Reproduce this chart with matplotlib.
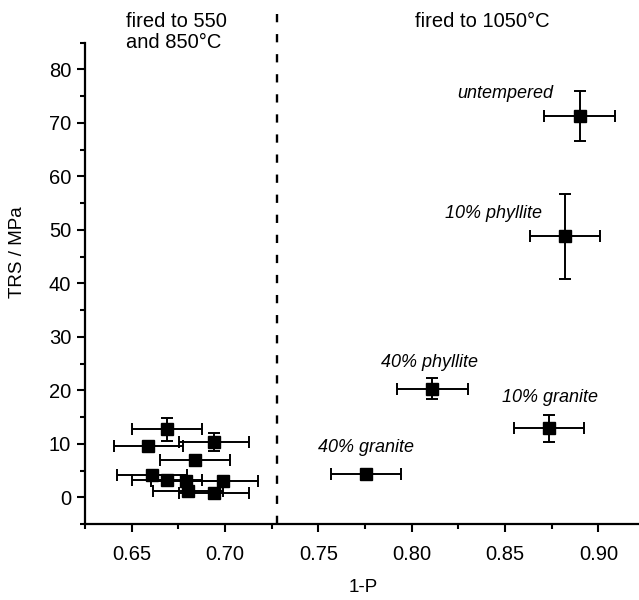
import matplotlib
matplotlib.use("Agg")
from matplotlib import pyplot as plt

plt.rcParams['font.family'] = ['Liberation Sans', 'DejaVu Sans']

# samples fired to 550 and 850 C
low_x = [0.669, 0.694, 0.659, 0.684, 0.661, 0.669, 0.679, 0.699, 0.680, 0.694]
low_y = [12.7, 10.4, 9.5, 6.9, 4.1, 3.3, 3.0, 3.1, 1.2, 0.8]
low_xerr = [0.0186, 0.0187, 0.0187, 0.0187, 0.0187, 0.0187, 0.0187, 0.0187, 0.0187, 0.0187]
low_yerr = [2.1, 1.7, 0.5, 0.5, 0.5, 0.5, 0.5, 0.5, 0.5, 0.5]

# samples fired to 1050 C
high_names = ['untempered', '10% phyllite', '40% phyllite', '10% granite', '40% granite']
high_x = [0.890, 0.882, 0.811, 0.8735, 0.7756]
high_y = [71.3, 48.8, 20.3, 12.9, 4.4]
high_xerr = [0.0189, 0.0188, 0.019, 0.0186, 0.0188]
high_yerr = [4.7, 7.9, 2.0, 2.5, 0.6]
label_off = [(-74, 22), (-71, 23), (-3, 26), (1, 31), (0, 26)]

split_x = 0.7277

fig = plt.figure(figsize=(6.39, 6.0), dpi=100)
ax = fig.add_axes([85/639, 76/600, 560/639, 481.3/600])

eb = dict(fmt='s', color='black', ms=8.3, elinewidth=1.4, capsize=4, capthick=1.4)
ax.errorbar(low_x, low_y, xerr=low_xerr, yerr=low_yerr, **eb)
ax.errorbar(high_x, high_y, xerr=high_xerr, yerr=high_yerr, **eb)

for name, x, y, off in zip(high_names, high_x, high_y, label_off):
    ax.annotate(name, (x, y), xytext=off, textcoords='offset pixels',
                ha='center', va='center', fontsize=13, style='italic')

ax.axvline(split_x, ymin=0, ymax=(524 - 13) / 481.3, color='black', lw=1.7,
           linestyle=(0, (3.5, 5)), clip_on=False)

ax.text(0.647, 90.8, 'fired to 550\nand 850°C', ha='left', va='top', fontsize=14.5,
        linespacing=1.15, clip_on=False)
ax.text(0.8378, 90.8, 'fired to 1050°C', ha='center', va='top', fontsize=14.5,
        clip_on=False)

ax.set_xlim(0.625, 0.925)
ax.set_ylim(-5, 85)
ax.set_xticks([0.65, 0.70, 0.75, 0.80, 0.85, 0.90])
ax.set_xticklabels(['0.65', '0.70', '0.75', '0.80', '0.85', '0.90'])
ax.set_xticks([0.625, 0.675, 0.725, 0.775, 0.825, 0.875, 0.925], minor=True)
ax.set_yticks(range(0, 81, 10))
ax.set_yticks(range(-5, 86, 10), minor=True)

for s in ['top', 'right']:
    ax.spines[s].set_visible(False)
for s in ['left', 'bottom']:
    ax.spines[s].set_linewidth(1.6)
ax.tick_params(which='major', length=6, width=1.5, labelsize=14.5)
ax.tick_params(axis='y', which='major', pad=4)
ax.tick_params(axis='x', which='major', pad=9)
ax.tick_params(which='minor', length=3.5, width=1.5)

ax.set_xlabel('1-P', fontsize=13.5)
ax.set_ylabel('TRS / MPa', fontsize=13.5)
ax.xaxis.set_label_coords((363 - 85) / 560, -(579 - 524) / 481.3)
ax.yaxis.set_label_coords((26 - 85) / 560, (524 - 252) / 481.3)

fig.savefig('out.png', dpi=100)
